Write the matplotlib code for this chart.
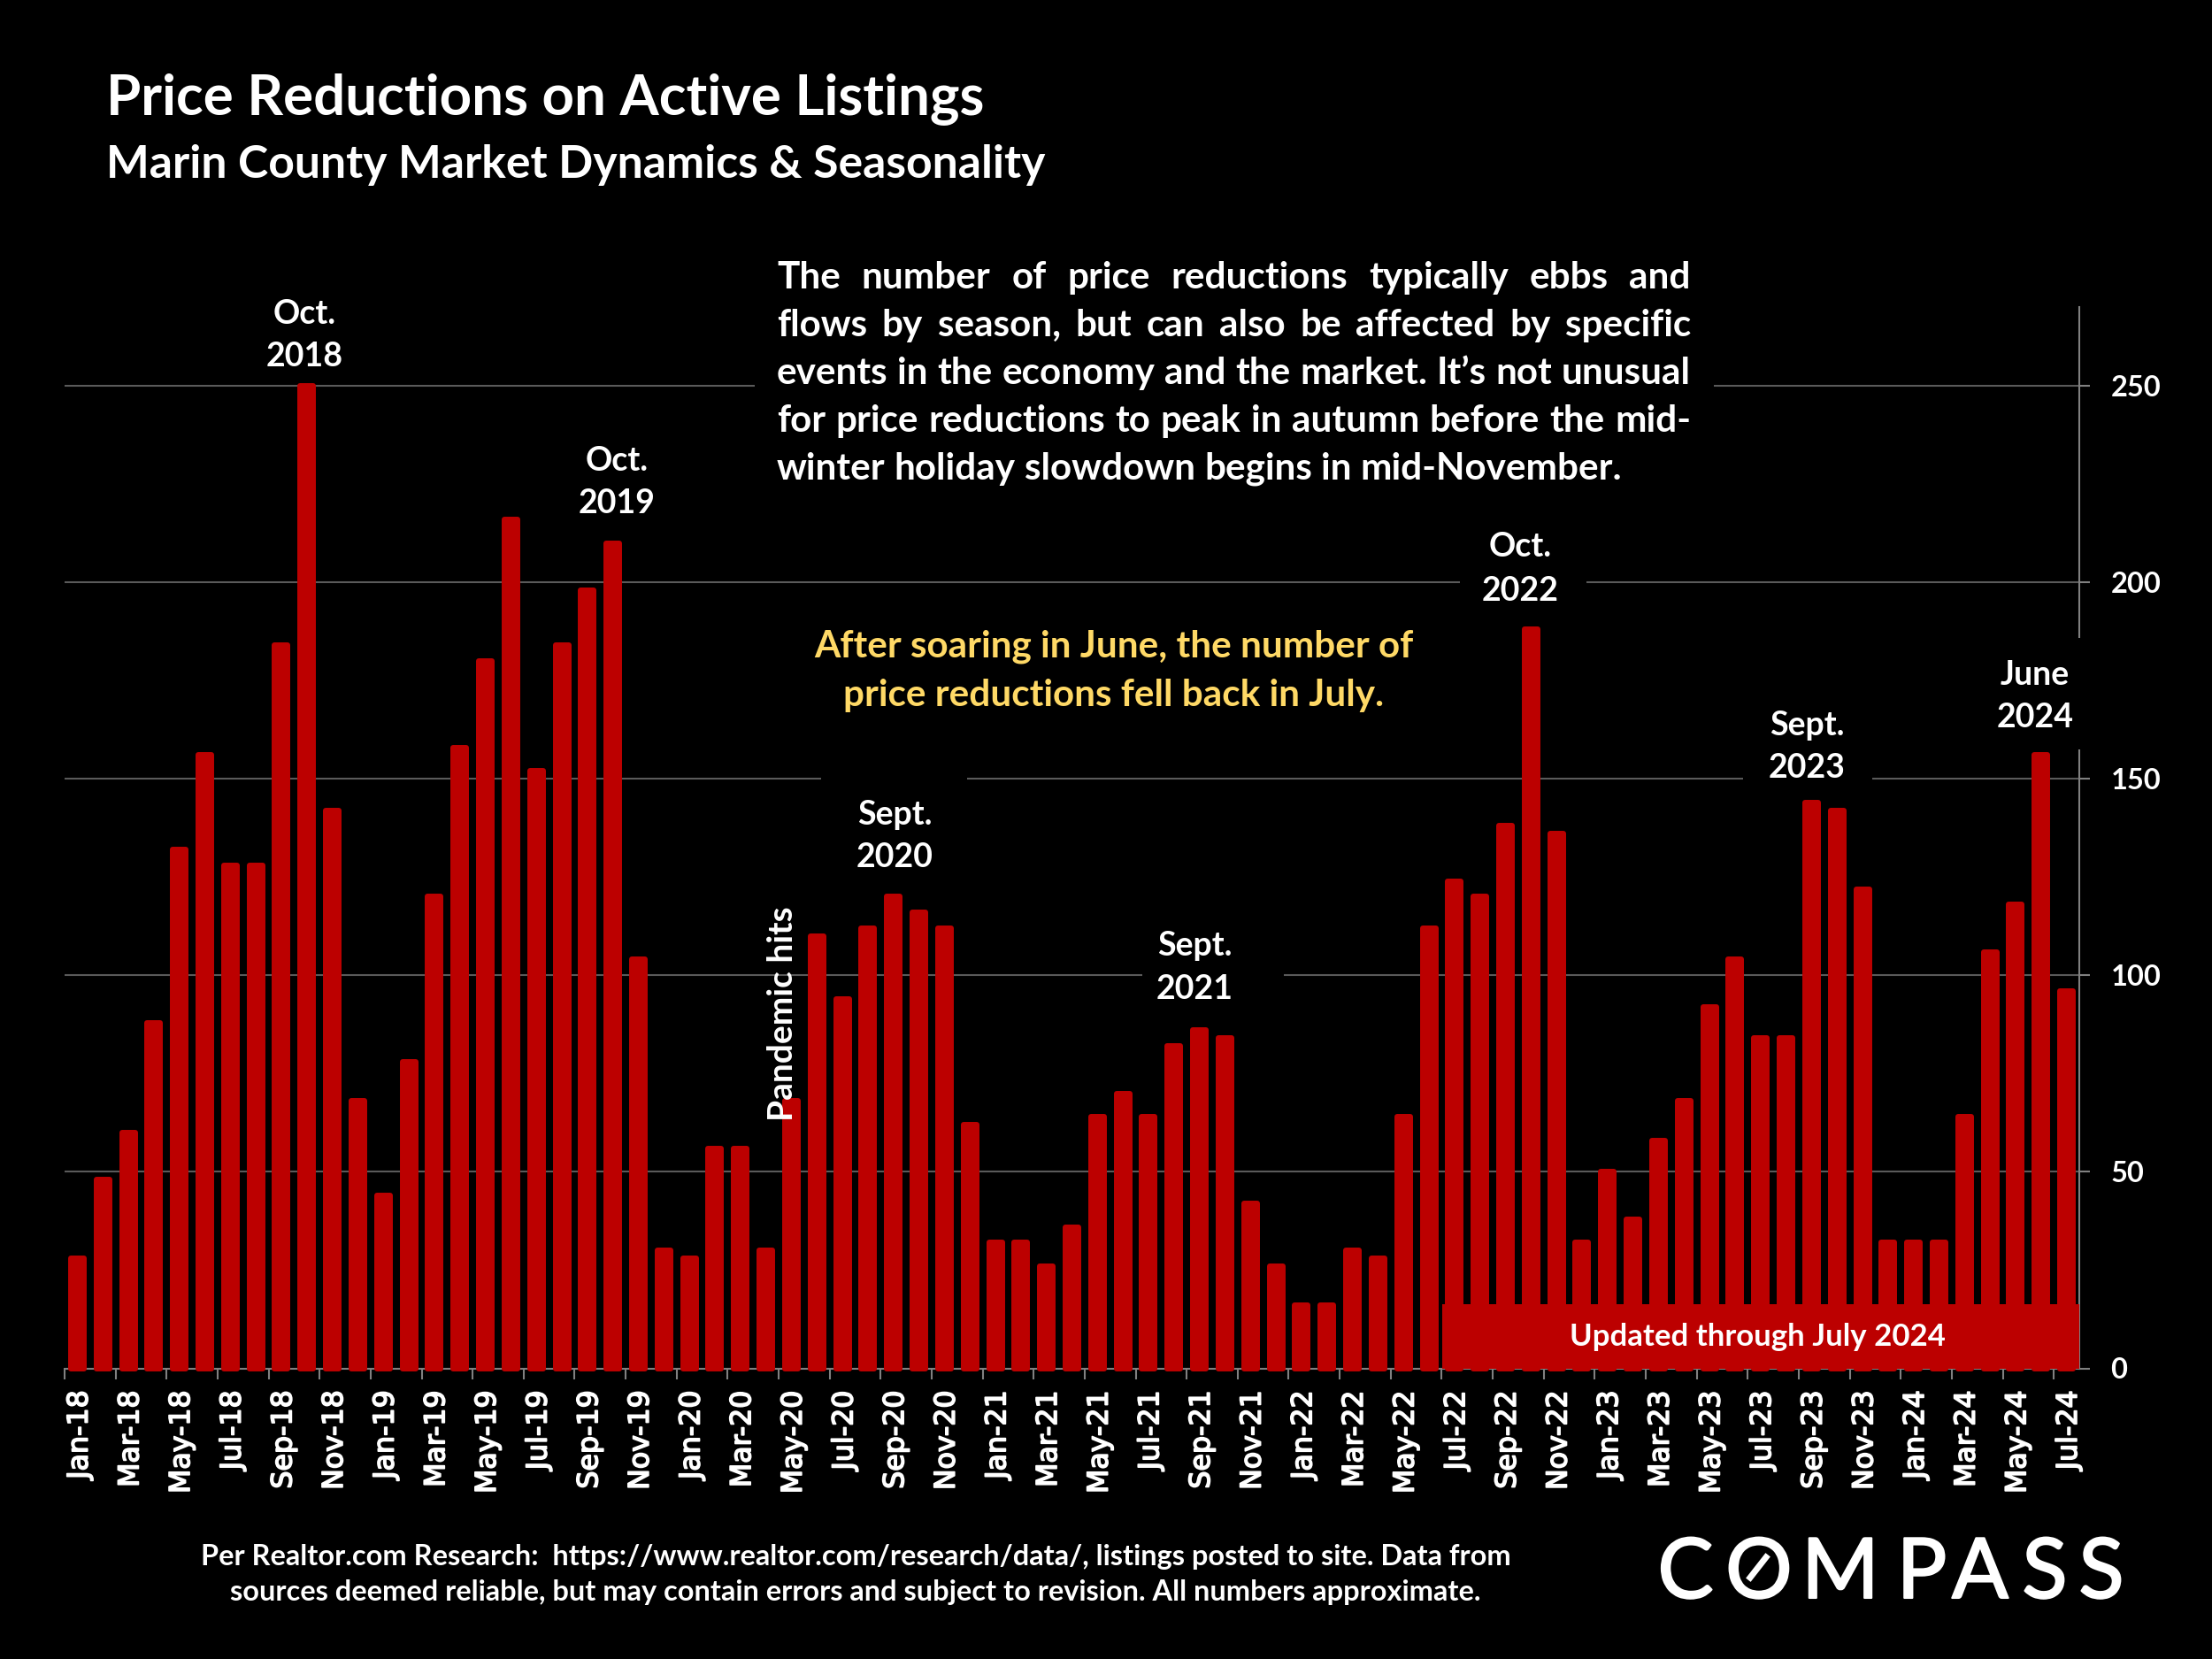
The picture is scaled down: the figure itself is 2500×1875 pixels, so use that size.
import matplotlib
matplotlib.use("Agg")
import matplotlib.pyplot as plt
import matplotlib.patheffects as pe
from matplotlib.patches import Rectangle
from matplotlib.lines import Line2D

W, H = 2500, 1875
RED = "#BC0000"
plt.rcParams["font.family"] = ["Lato", "DejaVu Sans"]

years = ["18", "19", "20", "21", "22", "23", "24"]
months = ["Jan", "Feb", "Mar", "Apr", "May", "Jun", "Jul", "Aug", "Sep", "Oct", "Nov", "Dec"]

reductions_2018 = [28, 48, 60, 88, 132, 156, 128, 128, 184, 250, 142, 68]
reductions_2019 = [44, 78, 120, 158, 180, 216, 152, 184, 198, 210, 104, 30]
reductions_2020 = [28, 56, 56, 30, 68, 110, 94, 112, 120, 116, 112, 62]
reductions_2021 = [32, 32, 26, 36, 64, 70, 64, 82, 86, 84, 42, 26]
reductions_2022 = [16, 16, 30, 28, 64, 112, 124, 120, 138, 188, 136, 32]
reductions_2023 = [50, 38, 58, 68, 92, 104, 84, 84, 144, 142, 122, 32]
reductions_2024 = [32, 32, 64, 106, 118, 156, 96]

values = (reductions_2018 + reductions_2019 + reductions_2020 + reductions_2021
          + reductions_2022 + reductions_2023 + reductions_2024)
labels = [f"{months[i % 12]}-{years[i // 12]}" for i in range(len(values))]
y_ticks = [0, 50, 100, 150, 200, 250]


def fx(x):
    return x / W


def fy(y):
    return 1 - y / H


fig = plt.figure(figsize=(W / 100, H / 100), dpi=100, facecolor="black")
ax = fig.add_axes([fx(73), fy(1546.5), (2350 - 73) / W, (1546.5 - 347) / H], facecolor="black")
xs = list(range(len(values)))

# bars with a thick round-joined outline, like the rounded tops of the original
bars = ax.bar(xs, values, width=0.52, color=RED, edgecolor=RED, linewidth=4.3, zorder=3, clip_on=False)
for b in bars:
    b.set_joinstyle("round")

ax.set_xlim(-0.5, len(values) - 0.5)
ax.set_ylim(0, 270)

ax.yaxis.tick_right()
ax.set_yticks(y_ticks)
ax.grid(axis="y", color="#5A5A5A", linewidth=1.5, zorder=0)
ax.set_axisbelow(True)
ax.tick_params(axis="y", length=8.5, width=1.5, color="#808080", pad=17, labelcolor="white", labelsize=23.5)
for t in ax.get_yticklabels():
    t.set_fontweight("bold")

# ticks on category edges, labels on the centres
ax.set_xticks([i - 0.5 for i in xs[::2]])
ax.set_xticklabels([])
ax.tick_params(axis="x", which="major", length=8.5, width=1.5, color="#808080")
ax.set_xticks([i + 0.1 for i in xs[::2]], minor=True)
ax.set_xticklabels(labels[::2], minor=True, rotation=90, family="DejaVu Sans",
                   fontsize=22.8, color="white")
ax.tick_params(axis="x", which="minor", length=0, pad=18)
for t in ax.get_xticklabels(minor=True):
    # regular glyphs thickened: the original face is tall and heavy but not wide
    t.set_path_effects([pe.withStroke(linewidth=1.2, foreground="white")])

for side in ["top", "left"]:
    ax.spines[side].set_visible(False)
for side in ["bottom", "right"]:
    ax.spines[side].set_color("#808080")
    ax.spines[side].set_linewidth(1.5)

# black boxes behind the labels that break the gridlines
masks = [(853, 1937, 280, 560), (1650, 1793, 600, 690), (928, 1093, 860, 900),
         (1291, 1451, 1060, 1140), (1970, 2116, 860, 900), (2200, 2360, 721, 847)]
for x0, x1, y0, y1 in masks:
    ax.add_patch(Rectangle((fx(x0), fy(y1)), (x1 - x0) / W, (y1 - y0) / H, transform=fig.transFigure,
                           facecolor="black", edgecolor="none", clip_on=False, zorder=2.7))

# updated-through banner
ax.add_patch(Rectangle((fx(1630), fy(1546.5)), (2350 - 1630) / W, 72.5 / H, transform=fig.transFigure,
                       facecolor=RED, edgecolor="none", clip_on=False, zorder=4))


def label(x, y, s, size=27, color="white", ha="center", **kw):
    return fig.text(fx(x), fy(y + 3), s, fontsize=size, color=color, ha=ha, va="center",
                    fontweight="bold", zorder=6, **kw)


label(120, 109, "Price Reductions on Active Listings", size=45.8, ha="left")
label(120, 183, "Marin County Market Dynamics & Seasonality", size=37.2, ha="left")
label(1986, 1508, "Updated through July 2024", size=25)

callouts = [
    (344, 352, 400, "Oct.", "2018"),
    (697, 518, 566, "Oct.", "2019"),
    (1011, 918, 966, "Sept.", "2020"),
    (1350, 1066, 1115, "Sept.", "2021"),
    (1718, 615, 665, "Oct.", "2022"),
    (2042, 817, 865, "Sept.", "2023"),
    (2300, 760, 808, "June", "2024"),
]
for x, y1, y2, top, bottom in callouts:
    label(x, y1, top)
    label(x, y2, bottom)

label(884, 1143, "Pandemic hits", size=28, rotation=90)

# justified paragraph, word by word
para_lines = [
    ("The number of price reductions typically ebbs and", 311, True),
    ("flows by season, but can also be affected by specific", 365, True),
    ("events in the economy and the market. It\u2019s not unusual", 419, True),
    ("for price reductions to peak in autumn before the mid-", 473, True),
    ("winter holiday slowdown begins in mid-November.", 527, False),
]
para_left, para_right, para_size = 878, 1911, 30.4
renderer = fig.canvas.get_renderer()
for line, y, justify in para_lines:
    words = line.split(" ")
    parts = [label(para_left, y, w, size=para_size, ha="left") for w in words]
    widths = [p.get_window_extent(renderer).width for p in parts]
    if justify:
        gap = (para_right - para_left - sum(widths)) / (len(words) - 1)
    else:
        gap = para_size * 100 / 72 * 0.24
    x = para_left
    for p, w in zip(parts, widths):
        p.set_x(fx(x))
        x += w + gap

label(1259, 728, "After soaring in June, the number of", size=30.4, color="#FFD966")
label(1259, 783, "price reductions fell back in July.", size=30.4, color="#FFD966")

label(967, 1757, "Per Realtor.com Research:  https://www.realtor.com/research/data/, listings posted to site. Data from", size=23.4)
label(967, 1797, "sources deemed reliable, but may contain errors and subject to revision. All numbers approximate.", size=23.4)

# logo
logo_letters = ["C", "O", "M", "P", "A", "S", "S"]
logo_centres = [1905, 1988, 2080, 2172, 2238, 2311, 2375]
for ch, x in zip(logo_letters, logo_centres):
    t = fig.text(fx(x), fy(1806), ch, fontsize=68, color="white", ha="center", va="baseline", fontweight="normal")
    t.set_path_effects([pe.withStroke(linewidth=1.5, foreground="white")])
fig.add_artist(Line2D([fx(1978), fx(1996)], [fy(1783), fy(1760)], color="white", linewidth=5, transform=fig.transFigure))

fig.savefig("out.png", dpi=100, facecolor="black")
